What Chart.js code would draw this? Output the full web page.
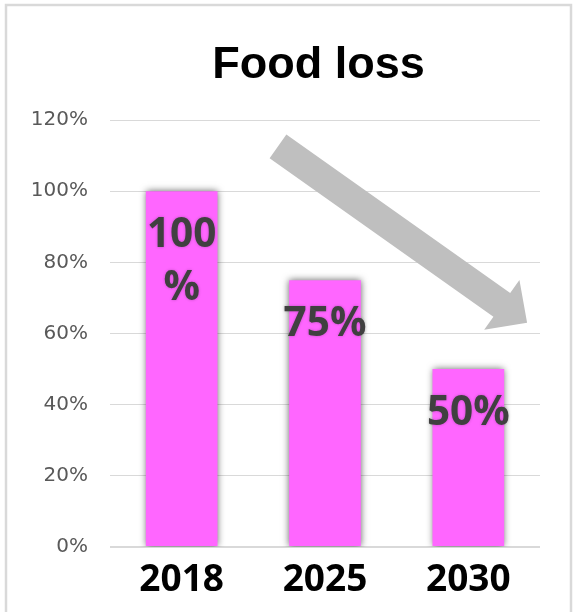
<!DOCTYPE html>
<html>
<head>
<meta charset="utf-8">
<script src="https://cdn.jsdelivr.net/npm/chart.js@4.4.1/dist/chart.umd.min.js"></script>
<style>
  html, body { margin: 0; padding: 0; background: #ffffff; }
  #wrap { width: 573px; height: 612px; }
</style>
</head>
<body>
<div id="wrap"><canvas id="c" width="573" height="612"></canvas></div>
<script>
// Food loss share relative to 2018
const categories = ['2018', '2025', '2030'];
const lossValues = [100, 75, 50];
const yTicks = [0, 20, 40, 60, 80, 100, 120];
const chartTitle = 'Food loss';

const BAR_COLOR = '#FF66FF';
const LABEL_COLOR = '#404040';
const ARROW_COLOR = '#BFBFBF';

// frame around the whole figure plus the heading
const framePlugin = {
  id: 'frame',
  beforeDraw(chart) {
    const ctx = chart.ctx;
    ctx.save();
    ctx.fillStyle = '#ffffff';
    ctx.fillRect(0, 0, chart.width, chart.height);
    ctx.strokeStyle = '#d9d9d9';
    ctx.lineWidth = 2.5;
    ctx.strokeRect(6, 5, 565, 640);
    ctx.fillStyle = '#000000';
    ctx.font = 'bold 45px "Liberation Sans", Arial, sans-serif';
    ctx.textAlign = 'center';
    ctx.textBaseline = 'alphabetic';
    ctx.fillText(chartTitle, 318.5, 78);
    ctx.restore();
  }
};

// soft side shadow on the bars
const barShadow = {
  id: 'barShadow',
  beforeDatasetsDraw(chart) {
    const ctx = chart.ctx;
    ctx.save();
    ctx.shadowColor = 'rgba(0,0,0,0.6)';
    ctx.shadowBlur = 7;
    ctx.shadowOffsetX = 0;
    ctx.shadowOffsetY = 0;
  },
  afterDatasetsDraw(chart) {
    chart.ctx.restore();
  }
};

// value labels inside the top of each bar, wrapped when far wider than the bar
const valueLabels = {
  id: 'valueLabels',
  afterDatasetsDraw(chart) {
    const ctx = chart.ctx;
    const meta = chart.getDatasetMeta(0);
    ctx.save();
    ctx.font = 'bold 40.5px "Open Sans"';
    ctx.fillStyle = LABEL_COLOR;
    ctx.textAlign = 'center';
    ctx.textBaseline = 'middle';
    ctx.shadowColor = 'rgba(0,0,0,0.25)';
    ctx.shadowBlur = 3;
    meta.data.forEach((bar, i) => {
      const v = lossValues[i];
      const full = v + '%';
      const lines = ctx.measureText(full).width - bar.width > 15 ? [String(v), '%'] : [full];
      lines.forEach((t, k) => {
        ctx.fillText(t, bar.x, bar.y + 44 + k * 53);
      });
    });
    ctx.restore();
  }
};

// downward trend arrow placed in data space
const trendArrow = {
  id: 'trendArrow',
  afterDraw(chart) {
    const xs = chart.scales.x, ys = chart.scales.y;
    const x0 = xs.getPixelForValue(0.672), y0 = ys.getPixelForValue(112.6);
    const x1 = xs.getPixelForValue(2.41), y1 = ys.getPixelForValue(63);
    const dx = x1 - x0, dy = y1 - y0;
    const len = Math.hypot(dx, dy);
    const ux = dx / len, uy = dy / len;
    const px = -uy, py = ux;
    const shaftHalf = 14.5, headHalf = 30.5, headLen = 31;
    const bx = x1 - ux * headLen, by = y1 - uy * headLen;
    const ctx = chart.ctx;
    ctx.save();
    ctx.fillStyle = ARROW_COLOR;
    ctx.beginPath();
    ctx.moveTo(x0 + px * shaftHalf, y0 + py * shaftHalf);
    ctx.lineTo(bx + px * shaftHalf, by + py * shaftHalf);
    ctx.lineTo(bx + px * headHalf, by + py * headHalf);
    ctx.lineTo(x1, y1);
    ctx.lineTo(bx - px * headHalf, by - py * headHalf);
    ctx.lineTo(bx - px * shaftHalf, by - py * shaftHalf);
    ctx.lineTo(x0 - px * shaftHalf, y0 - py * shaftHalf);
    ctx.closePath();
    ctx.fill();
    ctx.restore();
  }
};

new Chart(document.getElementById('c'), {
  type: 'bar',
  data: {
    labels: categories,
    datasets: [{
      data: lossValues,
      backgroundColor: BAR_COLOR,
      borderWidth: 0,
      categoryPercentage: 1.0,
      barPercentage: 0.5
    }]
  },
  options: {
    responsive: false,
    animation: false,
    devicePixelRatio: 1,
    layout: { padding: { left: 0, right: 33, top: 120, bottom: 0 } },
    plugins: {
      legend: { display: false },
      tooltip: { enabled: false },
      title: { display: false }
    },
    scales: {
      x: {
        afterFit(scale) { scale.height = 65; },
        grid: { display: false },
        border: { display: false },
        ticks: {
          color: '#000000',
          font: { family: '"Open Sans"', size: 37, weight: 'bold' },
          padding: 3,
          maxRotation: 0
        }
      },
      y: {
        min: 0,
        max: 120,
        afterFit(scale) { scale.width = 110; },
        afterBuildTicks(scale) { scale.ticks = yTicks.map(v => ({ value: v })); },
        grid: {
          color: '#d9d9d9',
          lineWidth: ctx => (ctx.tick && ctx.tick.value === 0 ? 2 : 1),
          drawTicks: false
        },
        border: { display: false },
        ticks: {
          color: '#595959',
          font: { family: '"DejaVu Sans"', size: 20 },
          padding: 22,
          callback: v => v + '%'
        }
      }
    }
  },
  plugins: [framePlugin, barShadow, valueLabels, trendArrow]
});
</script>
</body>
</html>
